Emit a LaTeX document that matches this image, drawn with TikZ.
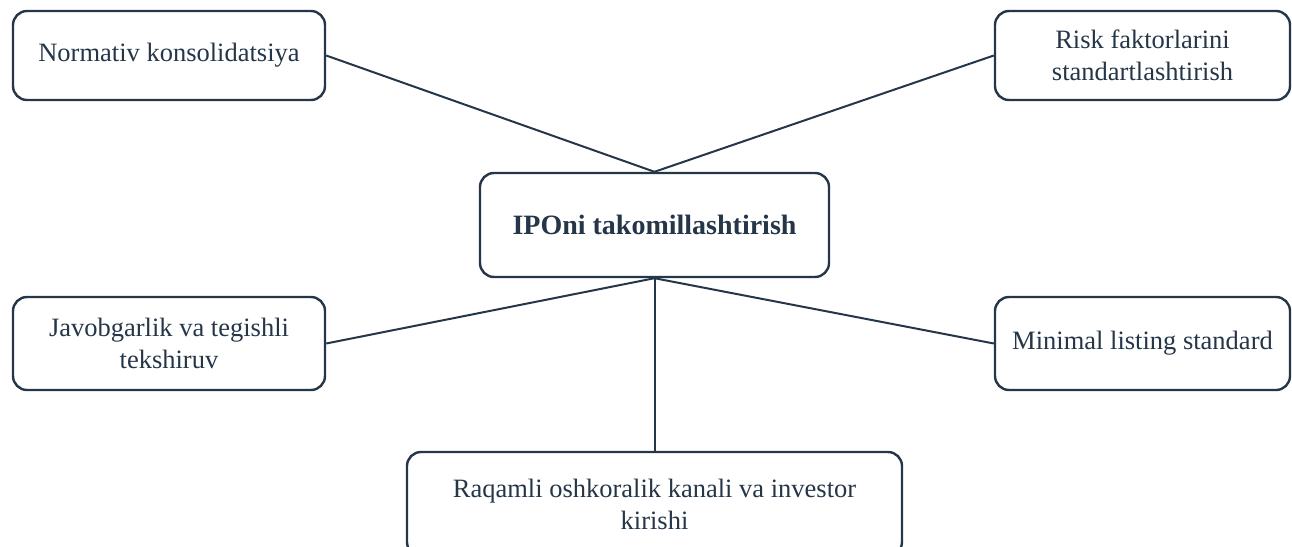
\documentclass[tikz,border=0pt]{standalone}
\usepackage{fontspec}
\setmainfont{Liberation Serif}
\definecolor{navy}{HTML}{263649}
\begin{document}
\begin{tikzpicture}[x=1pt,y=-1pt,
  box/.style={draw=navy, line width=2.4pt, rounded corners=14pt, fill=white,
    text=navy, align=center, inner sep=0pt,
    font=\fontsize{26.5}{32}\selectfont},
  link/.style={draw=navy, line width=2pt}]
\useasboundingbox (0,0) rectangle (1292,546);
\node[box, minimum width=312pt, minimum height=89pt] (nk) at (169,55.5) {Normativ konsolidatsiya};
\node[box, minimum width=295pt, minimum height=89pt] (rf) at (1142.5,55.5) {Risk faktorlarini\\standartlashtirish};
\node[box, minimum width=349pt, minimum height=104pt, font=\fontsize{28}{32}\selectfont\bfseries] (c) at (654.5,225) {IPOni takomillashtirish};
\node[box, minimum width=312pt, minimum height=93pt] (jv) at (169,343.5) {Javobgarlik va tegishli\\tekshiruv};
\node[box, minimum width=295pt, minimum height=93pt] (ml) at (1142.5,343.5) {Minimal listing standard};
\node[box, minimum width=495pt, minimum height=104pt] (rq) at (654.5,504) {Raqamli oshkoralik kanali va investor\\kirishi};
\draw[link] (nk.east) -- (c.north);
\draw[link] (c.north) -- (rf.west);
\draw[link] (jv.east) -- (c.south);
\draw[link] (c.south) -- (ml.west);
\draw[link] (c.south) -- (rq.north);
\end{tikzpicture}
\end{document}
